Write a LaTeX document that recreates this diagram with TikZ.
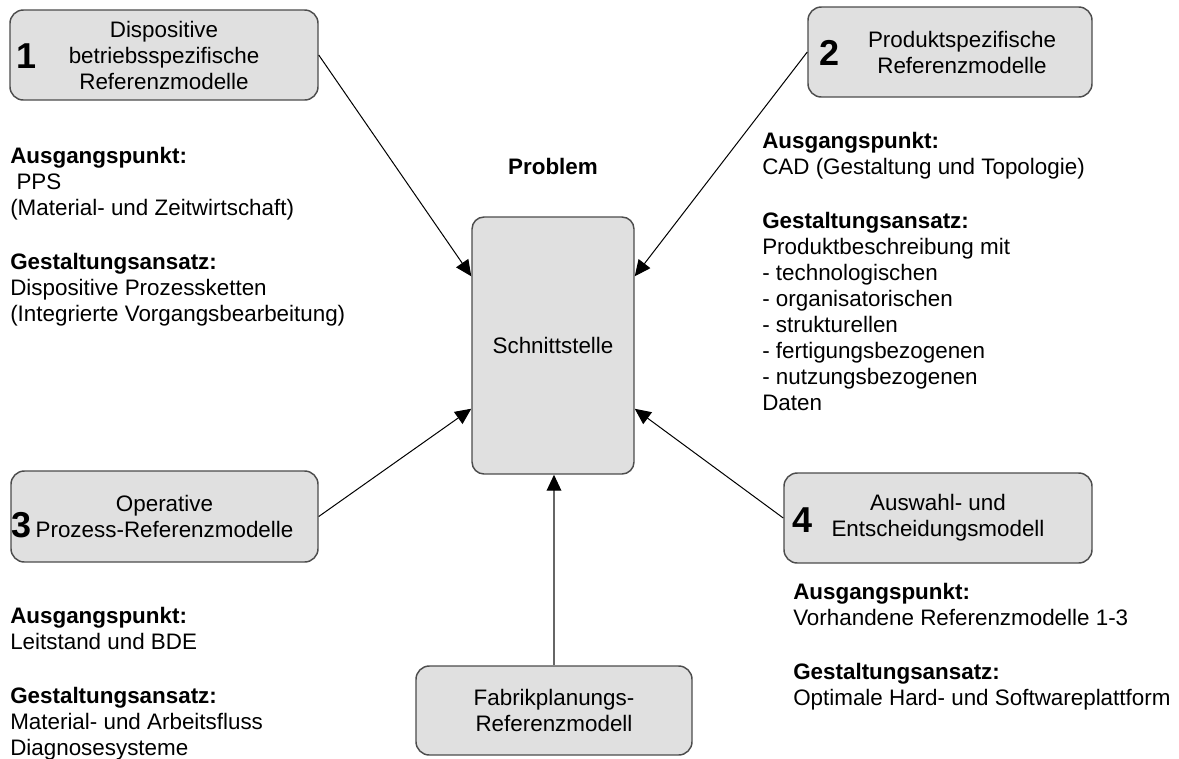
\documentclass[tikz,border=0pt]{standalone}
\usepackage{fontspec}
\setmainfont{Liberation Sans}
\usetikzlibrary{arrows.meta,calc}
\definecolor{boxfill}{gray}{0.878}
\definecolor{boxline}{gray}{0.3}
\definecolor{uplink}{gray}{0.4}

\begin{document}
\begin{tikzpicture}[x=0.75pt,y=-0.75pt,
  box/.style={draw=boxline, fill=boxfill, line width=1.1pt, rounded corners=10pt,
    inner sep=0pt, align=center, font=\fontsize{16.8pt}{19.5pt}\selectfont},
  num/.style={anchor=base, inner sep=0pt, font=\fontsize{27pt}{30pt}\selectfont\bfseries},
  info/.style={anchor=north west, inner sep=0pt, align=left,
    font=\fontsize{16.8pt}{19.5pt}\selectfont},
  link/.style={draw=black, line width=0.75pt,
    -{Triangle[length=12pt,width=11pt,color=black]}},
]
\useasboundingbox (0,0) rectangle (1179,758);

% reference model boxes
\node[box, minimum width=231pt, minimum height=67.5pt] (b1) at (164,55)
  {Dispositive\\betriebsspezifische\\Referenzmodelle};
\node[box, minimum width=213pt, minimum height=67.5pt] (b2) at (950,52)
  {\hspace*{18pt}Produktspezifische\\\hspace*{18pt}Referenzmodelle};
\node[box, minimum width=230.25pt, minimum height=68.25pt] (b3) at (164.5,516.5)
  {Operative\\Prozess-Referenzmodelle};
\node[box, minimum width=231pt, minimum height=67.5pt] (b4) at (938,518)
  {Auswahl- und\\Entscheidungsmodell};
\node[box, minimum width=207pt, minimum height=66.75pt] (b5) at (554,710.5)
  {Fabrikplanungs-\\Referenzmodell};
\node[box, rounded corners=9pt, minimum width=121.5pt, minimum height=192.75pt] (c)
  at (553,345.5) {Schnittstelle};

% box numbers
\node[num] (n1) at ($(b1.west)+(17,13)$) {1};
\node[num] (n2) at ($(b2.west)+(22,13)$) {2};
\node[num] (n3) at ($(b3.west)+(11,20.5)$) {3};
\node[num] (n4) at ($(b4.west)+(19,14)$) {4};

\node[inner sep=0pt, font=\fontsize{16.8pt}{19.5pt}\selectfont\bfseries] (prob)
  at (553,166) {Problem};

% descriptions
\node[info] (t1) at (10,147)
  {\textbf{Ausgangspunkt:}\\\hspace*{4.7pt}PPS\\(Material- und Zeitwirtschaft)\\[21pt]
   \textbf{Gestaltungsansatz:}\\Dispositive Prozessketten\\(Integrierte Vorgangsbearbeitung)};
\node[info] (t2) at (762,132)
  {\textbf{Ausgangspunkt:}\\CAD (Gestaltung und Topologie)\\[21pt]
   \textbf{Gestaltungsansatz:}\\Produktbeschreibung mit\\- technologischen\\- organisatorischen\\
   - strukturellen\\- fertigungsbezogenen\\- nutzungsbezogenen\\Daten};
\node[info] (t3) at (10,607)
  {\textbf{Ausgangspunkt:}\\Leitstand und BDE\\[21pt]
   \textbf{Gestaltungsansatz:}\\Material- und Arbeitsfluss\\Diagnosesysteme};
\node[info] (t4) at (793,583)
  {\textbf{Ausgangspunkt:}\\Vorhandene Referenzmodelle 1-3\\[21pt]
   \textbf{Gestaltungsansatz:}\\Optimale Hard- und Softwareplattform};

% connectors into the interface box
\draw[link] (b1.east) -- ($(c.north west)+(0,60)$);
\draw[link] (b2.west) -- ($(c.north east)+(0,60)$);
\draw[link] (b3.east) -- ($(c.south west)+(0,-66)$);
\draw[link] (b4.west) -- ($(c.south east)+(0,-66)$);
\draw[link, draw=uplink, line width=1pt] (b5.north) -- (b5.north |- c.south);
\end{tikzpicture}
\end{document}
